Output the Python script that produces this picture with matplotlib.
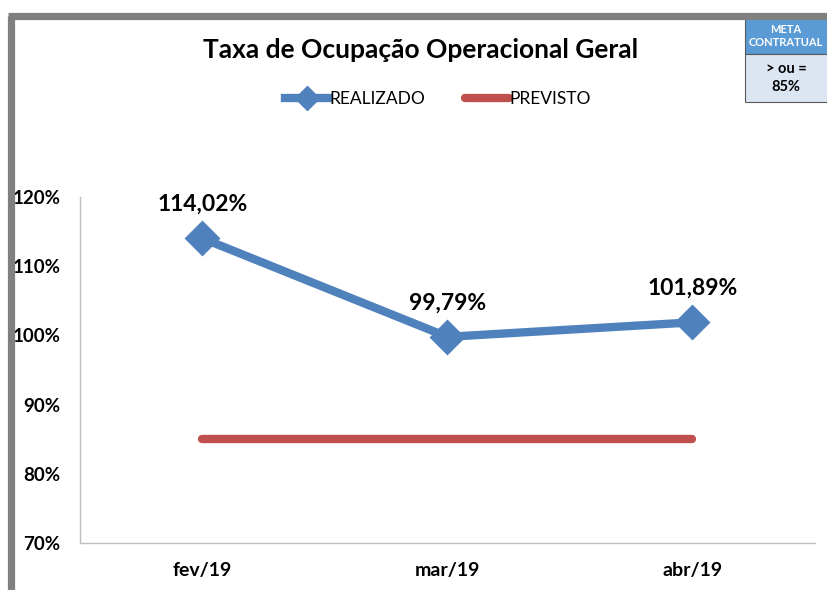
import matplotlib.pyplot as plt
from matplotlib.patches import Rectangle
from matplotlib.lines import Line2D

plt.rcParams['font.family'] = ['Lato', 'DejaVu Sans']

meses = ['fev/19', 'mar/19', 'abr/19']
realizado = [114.02, 99.79, 101.89]
previsto = [85, 85, 85]
rotulos = ['114,02%', '99,79%', '101,89%']
yticks = [70, 80, 90, 100, 110, 120]

azul = '#4f81bd'
vermelho = '#c0504d'

fig = plt.figure(figsize=(8.28, 5.90), dpi=100)
W, H = 828, 590

# moldura cinza (canto superior esquerdo)
fig.add_artist(Line2D([11.5 / W, 11.5 / W], [0, 1 - 15.5 / H], color='#808080', lw=5.2,
                      transform=fig.transFigure, solid_capstyle='butt'))
fig.add_artist(Line2D([8 / W, 1], [1 - 15.5 / H, 1 - 15.5 / H], color='#808080', lw=5.2,
                      transform=fig.transFigure, solid_capstyle='butt'))

ax = fig.add_axes([80 / W, 1 - 543 / H, (815 - 80) / W, (543 - 197) / H])
x = range(len(meses))
ax.plot(x, previsto, color=vermelho, lw=6, solid_capstyle='round', label='PREVISTO', zorder=2)
ax.plot(x, realizado, color=azul, lw=6, marker='D', markersize=16, markeredgewidth=2,
        markeredgecolor=azul, label='REALIZADO', zorder=3)
for i, (v, t) in enumerate(zip(realizado, rotulos)):
    ax.annotate(t, (i, v), xytext=(0, 17), textcoords='offset points', ha='center', va='bottom',
                fontsize=16.5, fontweight='bold')

ax.set_xlim(-0.5, 2.5)
ax.set_ylim(70, 120)
ax.set_xticks(list(x))
ax.set_xticklabels(meses, fontsize=14, fontweight='bold')
ax.set_yticks(yticks)
ax.set_yticklabels([f'{v}%' for v in yticks], fontsize=13.5, fontweight='bold')
ax.tick_params(axis='x', length=0, pad=14)
ax.tick_params(axis='y', length=0, pad=14)
for s in ['top', 'right']:
    ax.spines[s].set_visible(False)
for s in ['left', 'bottom']:
    ax.spines[s].set_color('#bfbfbf')
    ax.spines[s].set_linewidth(1)

fig.text(421 / W, 1 - 50 / H, 'Taxa de Ocupação Operacional Geral', ha='center', va='center',
         fontsize=19, fontweight='bold')

h_real = Line2D([], [], color=azul, lw=6, marker='D', markersize=12)
h_prev = Line2D([], [], color=vermelho, lw=6, solid_capstyle='round')
fig.legend([h_real, h_prev], ['REALIZADO', 'PREVISTO'], loc='center', bbox_to_anchor=(438 / W, 1 - 99 / H),
           ncol=2, frameon=False, fontsize=12.5, handlelength=2.5, handletextpad=0.05, columnspacing=2.3)

# quadro meta contratual
fig.add_artist(Rectangle((745 / W, 1 - 54 / H), 83 / W, 36 / H, transform=fig.transFigure,
                         facecolor='#5b9bd5', edgecolor='#595959', lw=0.8))
fig.add_artist(Rectangle((745 / W, 1 - 102 / H), 83 / W, 48 / H, transform=fig.transFigure,
                         facecolor='#dce6f2', edgecolor='#595959', lw=0.8))
fig.text(786 / W, 1 - 36 / H, 'META\nCONTRATUAL', ha='center', va='center', color='white',
         fontsize=8, fontweight='bold', linespacing=1.3)
fig.text(786 / W, 1 - 78 / H, '> ou =\n85%', ha='center', va='center', color='black',
         fontsize=10.5, fontweight='bold', linespacing=1.4)

fig.savefig('out.png', dpi=100)
